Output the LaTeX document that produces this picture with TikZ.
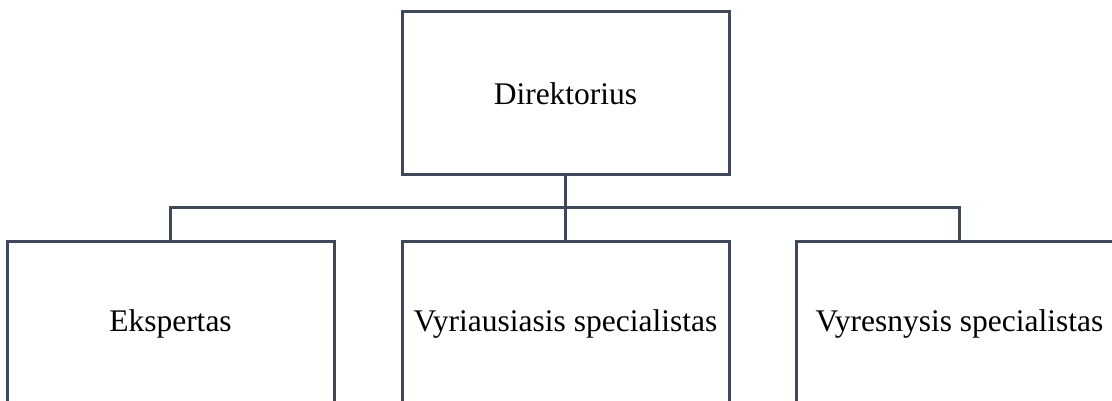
\documentclass[tikz,border=0pt]{standalone}
\usepackage{fontspec}
\setmainfont{Liberation Serif}
\usetikzlibrary{positioning}
\definecolor{orgline}{RGB}{62,72,88}

\begin{document}
\begin{tikzpicture}[x=1pt, y=1pt,
                post/.style={draw=orgline, line width=3pt, minimum width=327pt, minimum height=163pt,
                             outer sep=0pt, inner sep=0pt, align=center,
                             font=\fontsize{31.5}{38}\selectfont},
                link/.style={draw=orgline, line width=3pt}]

                % page frame, the chart runs off to the right and bottom
                \useasboundingbox (0,0) rectangle (1112,401);
                \clip (0,0) rectangle (1112,401);

                % boxes - place the staff row relative to the head
                \node[post] (head) at (565.5,307.5) {Direktorius};
                \node[post, below=67pt of head] (chief) {Vyriausiasis specialistas};
                \node[post, left=68pt of chief] (expert) {Ekspertas};
                \node[post, right=67pt of chief] (senior) {Vyresnysis specialistas};

                % tree connectors
                \coordinate (split) at ([yshift=-33pt]head.south);
                \draw[link] (head.south) -- (split);
                \draw[link] (split) -- (chief.north);
                \draw[link] (split) -| (expert.north);
                \draw[link] (split) -| (senior.north);
            \end{tikzpicture}
\end{document}
